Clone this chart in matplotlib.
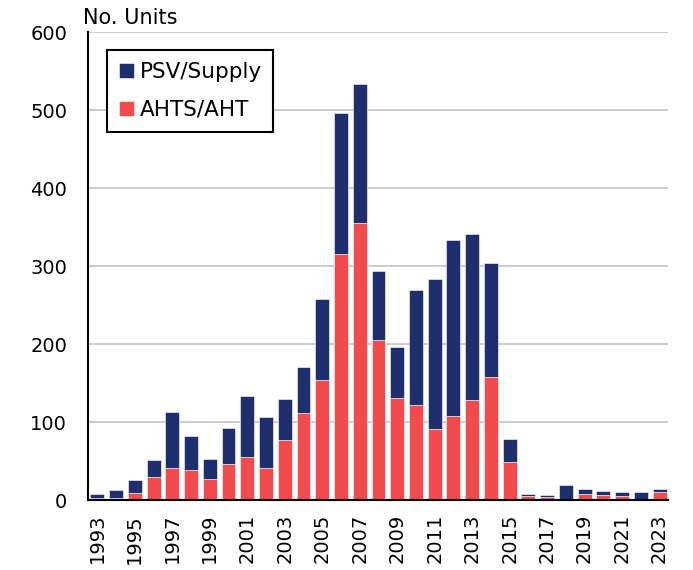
import matplotlib
matplotlib.use("Agg")
import matplotlib.pyplot as plt
import numpy as np

years = list(range(1993, 2024))
ahts = [3, 3, 9, 30, 41, 39, 27, 46, 55, 41, 77, 111, 154, 316, 355, 205, 131, 122,
        91, 108, 128, 158, 49, 5, 4, 0, 8, 7, 5, 0, 10]
psv = [5, 10, 17, 21, 72, 43, 26, 46, 78, 65, 53, 59, 104, 180, 178, 89, 65, 147,
       192, 225, 213, 146, 29, 3, 3, 19, 6, 5, 5, 10, 4]
series_names = ["PSV/Supply", "AHTS/AHT"]
yticks = [0, 100, 200, 300, 400, 500, 600]

navy = "#1f2e6c"
red = "#f24b4d"

plt.rcParams['font.family'] = ['DejaVu Sans']
fig = plt.figure(figsize=(6.93, 5.70), dpi=100)
ax = fig.add_axes([88/693, 1-500/570, 580/693, 468/570])

x = np.arange(len(years))
b_ahts = ax.bar(x, ahts, width=0.74, color=red, edgecolor="white", linewidth=0.4, zorder=3, label=series_names[1])
b_psv = ax.bar(x, psv, bottom=ahts, width=0.74, color=navy, edgecolor="white", linewidth=0.4, zorder=3, label=series_names[0])

ax.set_xlim(-0.5, len(years) - 0.55)
ax.set_ylim(0, 600)
ax.set_yticks(yticks)
ax.set_yticklabels([str(v) for v in yticks], fontsize=14)
ax.set_xticks(x[::2])
ax.set_xticklabels([str(y) for y in years[::2]], rotation=90, fontsize=14)
ax.tick_params(axis='y', length=0, pad=15)
ax.tick_params(axis='x', length=0, pad=10)

ax.grid(axis='y', color="#c8c8c8", linewidth=1.3, zorder=0)
ax.set_axisbelow(True)
for s in ["top", "right"]:
    ax.spines[s].set_visible(False)
for s in ["left", "bottom"]:
    ax.spines[s].set_color("black")
    ax.spines[s].set_linewidth(1.5)
    ax.spines[s].set_zorder(4)

fig.text(83/693, 1-24/570, "No. Units", fontsize=15, va="baseline", ha="left")

leg = ax.legend([b_psv, b_ahts], series_names, loc="upper left",
                bbox_to_anchor=(0.033, 0.962), borderaxespad=0, fontsize=15.5,
                fancybox=False, edgecolor="black", framealpha=1,
                handlelength=0.7, handleheight=0.7, handletextpad=0.25,
                borderpad=0.55, labelspacing=0.85)
leg.get_frame().set_linewidth(1.5)
leg.set_zorder(5)

fig.savefig("out.png", dpi=100)
